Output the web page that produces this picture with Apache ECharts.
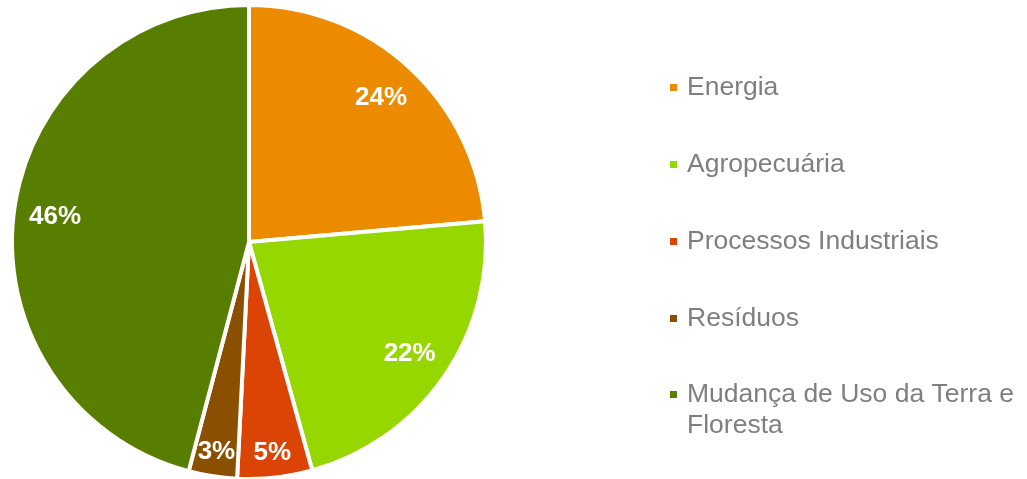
<!DOCTYPE html>
<html>
<head>
<meta charset="utf-8">
<script src="https://cdn.jsdelivr.net/npm/echarts@6/dist/echarts.min.js"></script>
<style>
  html, body { margin: 0; padding: 0; background: #fff; }
  #chart { width: 1027px; height: 479px; }
</style>
</head>
<body>
<div id="chart"></div>
<script>
// 数据
const categories = ['Energia', 'Agropecuária', 'Processos Industriais', 'Resíduos', 'Mudança de Uso da Terra e Floresta'];
const shares = [23.6, 22.1, 5.1, 3.3, 45.9];
const sliceColors = ['#ed8b00', '#97d700', '#dc4405', '#8a5000', '#587e00'];

const font = '"Liberation Sans", Arial, sans-serif';

const pieData = categories.map((name, i) => ({
    name: name,
    value: shares[i],
    itemStyle: { color: sliceColors[i] }
}));

// 图例公共样式
const legendBase = {
    orient: 'vertical',
    left: 668,
    padding: 0,
    itemWidth: 9,
    itemHeight: 9,
    itemGap: 46,
    icon: 'rect',
    selectedMode: false,
    textStyle: {
        color: '#7f7f7f',
        fontFamily: font,
        fontSize: 26.5,
        lineHeight: 31,
        padding: [0, 0, 0, 4]
    }
};

// 透明扇区，只用来放百分比标签（大扇区和小扇区的标签离圆心距离不同）
function labelLayer(radius, showFn) {
    return {
        type: 'pie',
        center: [249, 242],
        radius: radius,
        startAngle: 90,
        clockwise: true,
        silent: true,
        avoidLabelOverlap: false,
        itemStyle: { color: 'rgba(0,0,0,0)' },
        label: {
            position: 'inside',
            formatter: p => Math.round(p.percent) + '%',
            color: '#ffffff',
            fontFamily: font,
            fontWeight: 'bold',
            fontSize: 26
        },
        labelLine: { show: false },
        emphasis: { disabled: true },
        data: categories.map((name, i) => ({
            name: name,
            value: shares[i],
            label: { show: showFn(shares[i]) }
        }))
    };
}

const chart = echarts.init(document.getElementById('chart'));

const option = {
    animation: false,
    backgroundColor: '#ffffff',
    legend: [
        Object.assign({}, legendBase, {
            top: 72,
            data: categories.slice(0, 4)
        }),
        // 两行的最后一项：前面加一个空行，让图标与第一行对齐
        Object.assign({}, legendBase, {
            top: 348,
            formatter: () => '\nMudança de Uso da Terra e\nFloresta',
            data: [categories[4]]
        })
    ],
    series: [
        {
            type: 'pie',
            center: [249, 242],
            radius: [0, 237],
            startAngle: 90,
            clockwise: true,
            avoidLabelOverlap: false,
            itemStyle: { borderColor: '#ffffff', borderWidth: 4 },
            label: { show: false },
            labelLine: { show: false },
            emphasis: { disabled: true },
            data: pieData
        },
        labelLayer([148, 237], v => v >= 10),
        labelLayer([182, 237], v => v < 10)
    ]
};

chart.setOption(option);
</script>
</body>
</html>
